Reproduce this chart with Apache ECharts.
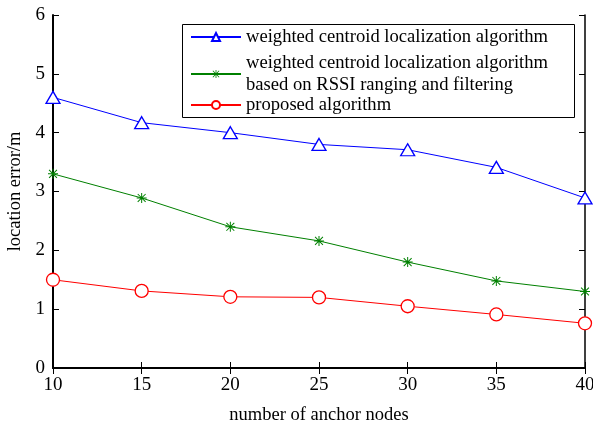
<!DOCTYPE html>
<html><head><meta charset="utf-8">
<script src="https://cdn.jsdelivr.net/npm/echarts@6/dist/echarts.min.js"></script>
<style>html,body{margin:0;padding:0;background:#fff}#c{width:593px;height:423px}</style>
</head><body><div id="c"></div>
<script>
const categories = [10, 15, 20, 25, 30, 35, 40];
const seriesNames = [
  'weighted centroid localization algorithm',
  'weighted centroid localization algorithm\nbased on RSSI ranging and filtering',
  'proposed algorithm'
];
const weightedCentroid = [4.6, 4.17, 4.0, 3.8, 3.71, 3.41, 2.89];
const weightedRSSI = [3.3, 2.89, 2.4, 2.16, 1.8, 1.48, 1.3];
const proposed = [1.5, 1.31, 1.21, 1.2, 1.05, 0.91, 0.76];
const yTicks = [0, 1, 2, 3, 4, 5, 6];

const FONT = '"Liberation Serif", "Times New Roman", serif';
const star = 'path://M9 0L11 0L11 20L9 20Z M0 9L20 9L20 11L0 11Z M1.4 2.8L2.8 1.4L18.6 17.2L17.2 18.6Z M17.2 1.4L18.6 2.8L2.8 18.6L1.4 17.2Z';

const pair = arr => arr.map((v, i) => [categories[i], v]);

const chart = echarts.init(document.getElementById('c'), null, {renderer: 'canvas'});
const legendBase = {
  orient: 'vertical', left: 182, itemWidth: 50, itemHeight: 10, itemGap: 0,
  padding: [0, 0, 0, 8], selectedMode: false,
  textStyle: {fontFamily: FONT, fontSize: 18.6, color: '#000', lineHeight: 22}
};
chart.setOption({
  animation: false,
  backgroundColor: '#fff',
  grid: {left: 53, right: 8, top: 15, bottom: 55, containLabel: false, outerBoundsMode: 'none'},
  legend: [
    Object.assign({}, legendBase, {top: 26, data: [seriesNames[0]]}),
    Object.assign({}, legendBase, {top: 52, data: [seriesNames[1]]}),
    Object.assign({}, legendBase, {top: 94, data: [seriesNames[2]]})
  ],
  graphic: [{type: 'rect', shape: {x: 182.5, y: 24.5, width: 392, height: 93}, style: {fill: '#fff', stroke: '#000', lineWidth: 1}, z: 1}],
  xAxis: [{
    type: 'value', min: 10, max: 40, interval: 5,
    name: 'number of anchor nodes', nameLocation: 'middle', nameGap: 38,
    nameTextStyle: {fontFamily: FONT, fontSize: 18.5, color: '#000'},
    axisLine: {onZero: false, lineStyle: {color: '#000', width: 2}},
    axisTick: {inside: true, length: 6, lineStyle: {color: '#000', width: 1}},
    axisLabel: {fontFamily: FONT, fontSize: 19, color: '#000', margin: 8},
    splitLine: {show: false}
  }, {
    type: 'value', min: 10, max: 40, interval: 5, position: 'top',
    axisLine: {lineStyle: {color: '#000', width: 1.5}},
    axisTick: {inside: true, length: 6, lineStyle: {color: '#000'}},
    axisLabel: {show: false}, splitLine: {show: false}
  }],
  yAxis: [{
    type: 'value', min: 0, max: 6, interval: 1,
    name: 'location error/m', nameLocation: 'middle', nameGap: 26,
    nameTextStyle: {fontFamily: FONT, fontSize: 18.5, color: '#000'},
    axisLine: {show: true, onZero: false, lineStyle: {color: '#000', width: 2}},
    axisTick: {show: true, inside: true, length: 6, lineStyle: {color: '#000'}},
    axisLabel: {fontFamily: FONT, fontSize: 19, color: '#000', margin: 8,
      formatter: v => yTicks.includes(v) ? String(v) : ''},
    splitLine: {show: false}
  }, {
    type: 'value', min: 0, max: 6, interval: 1, position: 'right',
    axisLine: {show: true, lineStyle: {color: '#000', width: 1.5}},
    axisTick: {show: true, inside: true, length: 6, lineStyle: {color: '#000'}},
    axisLabel: {show: false}, splitLine: {show: false}
  }],
  series: [{
    name: seriesNames[0], type: 'line', data: pair(weightedCentroid),
    symbol: 'triangle', symbolSize: [14, 12], color: '#0000ff',
    lineStyle: {color: '#0000ff', width: 1},
    itemStyle: {color: '#fff', borderColor: '#0000ff', borderWidth: 1.3}, z: 3
  }, {
    name: seriesNames[1], type: 'line', data: pair(weightedRSSI),
    symbol: star, symbolSize: 10, color: '#008000',
    lineStyle: {color: '#008000', width: 1},
    itemStyle: {color: '#008000', borderWidth: 0}, z: 3
  }, {
    name: seriesNames[2], type: 'line', data: pair(proposed),
    symbol: 'circle', symbolSize: 13, color: '#ff0000',
    lineStyle: {color: '#ff0000', width: 1},
    itemStyle: {color: '#fff', borderColor: '#ff0000', borderWidth: 1.3}, z: 3
  }]
});
</script></body></html>
